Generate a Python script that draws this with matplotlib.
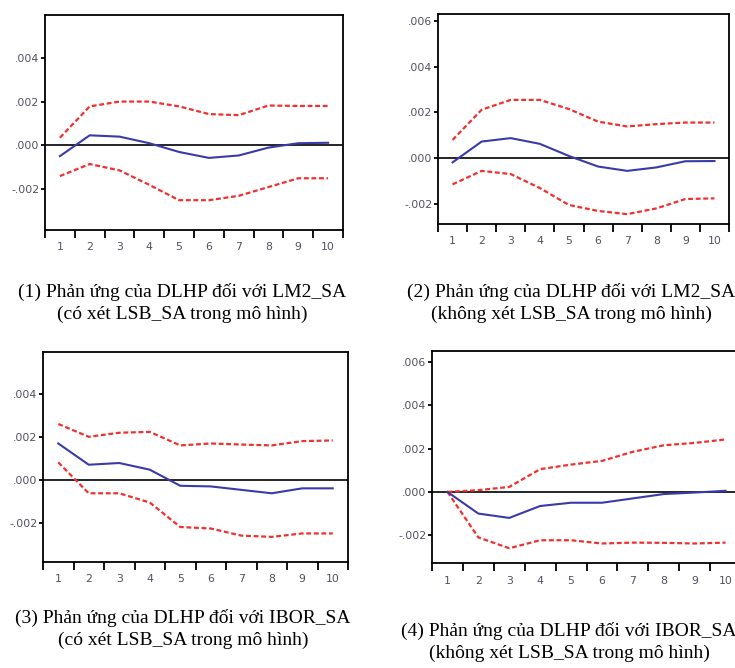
import numpy as np
import matplotlib
matplotlib.use("Agg")
import matplotlib.pyplot as plt
from matplotlib.ticker import FixedLocator, NullFormatter, FixedFormatter

# impulse responses of DLHP (EViews style), periods 1..10
periods = np.arange(1, 11)

# (1) LM2_SA, with LSB_SA
p1_resp = [-0.00049, 0.00046, 0.00040, 0.00010, -0.00030, -0.00057, -0.00046, -0.00010, 0.00010, 0.00012]
p1_up = [0.00035, 0.00178, 0.00200, 0.00200, 0.00178, 0.00143, 0.00138, 0.00182, 0.00180, 0.00180]
p1_lo = [-0.00140, -0.00085, -0.00114, -0.00180, -0.00250, -0.00250, -0.00230, -0.00190, -0.00150, -0.00150]

# (2) LM2_SA, without LSB_SA
p2_resp = [-0.00018, 0.00073, 0.00088, 0.00063, 0.00010, -0.00036, -0.00055, -0.00040, -0.00013, -0.00012]
p2_up = [0.00080, 0.00212, 0.00255, 0.00255, 0.00215, 0.00160, 0.00139, 0.00149, 0.00156, 0.00156]
p2_lo = [-0.00114, -0.00055, -0.00069, -0.00130, -0.00204, -0.00230, -0.00244, -0.00219, -0.00178, -0.00175]

# (3) IBOR_SA, with LSB_SA
p3_resp = [0.00169, 0.00070, 0.00078, 0.00047, -0.00028, -0.00031, -0.00047, -0.00063, -0.00040, -0.00040]
p3_up = [0.00260, 0.00200, 0.00219, 0.00223, 0.00160, 0.00169, 0.00164, 0.00160, 0.00180, 0.00183]
p3_lo = [0.00081, -0.00063, -0.00063, -0.00106, -0.00220, -0.00227, -0.00260, -0.00266, -0.00250, -0.00250]

# (4) IBOR_SA, without LSB_SA
p4_resp = [0.0, -0.00100, -0.00120, -0.00065, -0.00050, -0.00050, -0.00030, -0.00010, -0.00003, 0.00005]
p4_up = [0.0, 0.00008, 0.00023, 0.00105, 0.00126, 0.00143, 0.00185, 0.00215, 0.00226, 0.00242]
p4_lo = [0.0, -0.00210, -0.00260, -0.00223, -0.00223, -0.00238, -0.00234, -0.00235, -0.00238, -0.00234]

yticks_a = [-0.002, 0.0, 0.002, 0.004]
yticks_b = [-0.002, 0.0, 0.002, 0.004, 0.006]
ylabels_a = ["-.002", ".000", ".002", ".004"]
ylabels_b = ["-.002", ".000", ".002", ".004", ".006"]

captions = [
    "(1) Phản ứng của DLHP đối với LM2_SA\n(có xét LSB_SA trong mô hình)",
    "(2) Phản ứng của DLHP đối với LM2_SA\n(không xét LSB_SA trong mô hình)",
    "(3) Phản ứng của DLHP đối với IBOR_SA\n(có xét LSB_SA trong mô hình)",
    "(4) Phản ứng của DLHP đối với IBOR_SA\n(không xét LSB_SA trong mô hình)",
]

W, H = 735, 668
fig = plt.figure(figsize=(W / 100, H / 100), dpi=100)


def px_axes(left, top, right, bottom):
    return fig.add_axes([left / W, 1 - bottom / H, (right - left) / W, (bottom - top) / H])


panels = [
    (px_axes(45, 15, 343, 230), p1_resp, p1_up, p1_lo, (-0.00386, 0.00595), yticks_a, ylabels_a),
    (px_axes(438, 14, 729, 224), p2_resp, p2_up, p2_lo, (-0.00287, 0.0063), yticks_b, ylabels_b),
    (px_axes(43, 352, 348, 562), p3_resp, p3_up, p3_lo, (-0.00383, 0.00595), yticks_a, ylabels_a),
    (px_axes(432, 351, 741, 563), p4_resp, p4_up, p4_lo, (-0.00328, 0.0065), yticks_b, ylabels_b),
]

blue = "#3a3aa8"
red = "#f03030"
tick_col = "#505060"

for ax, resp, up, lo, ylim, yt, yl in panels:
    ax.axhline(0, color="black", lw=1.2, zorder=1)
    ax.plot(periods, up, color=red, lw=1.6, ls=(0, (2.2, 1.2)), zorder=2)
    ax.plot(periods, lo, color=red, lw=1.6, ls=(0, (2.2, 1.2)), zorder=2)
    ax.plot(periods, resp, color=blue, lw=1.5, zorder=3)
    ax.set_xlim(0.5, 10.5)
    ax.set_ylim(*ylim)
    # tick marks between periods, labels at periods
    ax.xaxis.set_major_locator(FixedLocator(np.arange(0.5, 11, 1)))
    ax.xaxis.set_major_formatter(NullFormatter())
    ax.xaxis.set_minor_locator(FixedLocator(periods))
    ax.xaxis.set_minor_formatter(FixedFormatter([str(p) for p in periods]))
    ax.tick_params(axis="x", which="major", direction="out", length=6, width=1.3, color="black")
    ax.tick_params(axis="x", which="minor", length=0, pad=9, labelsize=7.8, labelcolor=tick_col)
    ax.set_yticks(yt)
    ax.set_yticklabels(yl)
    ax.tick_params(axis="y", direction="out", length=3, width=1.3, pad=1, labelsize=7.8, labelcolor=tick_col)
    for s in ax.spines.values():
        s.set_linewidth(1.3)

serif = ["Liberation Serif", "DejaVu Serif"]
cap_kw = dict(ha="center", va="center", fontsize=14, family=serif, linespacing=1.32)
fig.text(182 / W, 1 - 303 / H, captions[0], **cap_kw)
fig.text(571 / W, 1 - 303 / H, captions[1], **cap_kw)
fig.text(183 / W, 1 - 629 / H, captions[2], **cap_kw)
fig.text(569 / W, 1 - 642 / H, captions[3], **cap_kw)

fig.savefig("out.png", dpi=100)
